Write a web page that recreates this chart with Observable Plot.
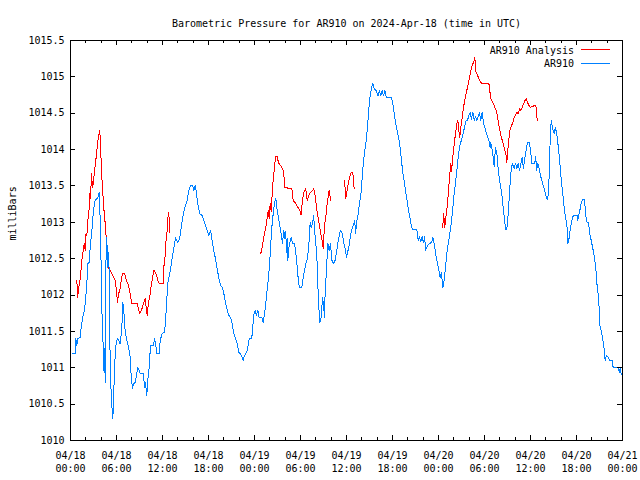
<!DOCTYPE html>
<html>
<head>
<meta charset="utf-8">
<script src="https://cdn.jsdelivr.net/npm/d3@7"></script>
<script src="https://cdn.jsdelivr.net/npm/@observablehq/plot@0.6"></script>
<style>
  body { margin: 0; background: #fff; }
  #wrap { position: relative; width: 640px; height: 480px; font-family: "DejaVu Sans Mono", monospace; font-size: 10px; color: #000; }
  .legtext { position: absolute; left: 400px; width: 174px; text-align: right; line-height: 12px; white-space: pre; }
  .legline { position: absolute; left: 581px; width: 29px; height: 1px; }
</style>
</head>
<body>
<div id="wrap"></div>
<script>
const title = "Barometric Pressure for AR910 on 2024-Apr-18 (time in UTC)";
const yLabel = "milliBars";
const seriesNames = ["AR910 Analysis", "AR910"];
const seriesColors = ["#ff0000", "#0080ff"];
const startUTC = Date.UTC(2024, 3, 18, 0, 0);

// AR910 (hours since 2024-04-18 00:00 UTC, mbar)
const blueHours = [0.26,0.61,0.69,0.82,0.95,1.27,1.40,1.57,1.83,2.00,2.13,2.26,2.44,2.61,2.78,2.87,3.04,3.22,3.56,3.74,3.82,3.95,4.08,4.27,4.34,4.43,4.53,4.60,4.73,4.87,4.96,5.05,5.13,5.22,5.39,5.52,5.61,5.74,5.91,6.09,6.26,6.48,6.69,6.82,6.95,7.13,7.34,7.57,7.79,7.92,8.09,8.22,8.44,8.65,8.78,8.96,9.09,9.52,9.65,9.78,9.95,10.08,10.26,10.43,10.83,10.96,11.13,11.26,11.57,11.70,11.96,12.26,12.39,12.52,12.69,12.95,13.13,13.30,13.47,13.70,14.00,14.26,14.44,14.61,14.78,15.00,15.22,15.43,15.65,15.91,16.08,16.30,16.60,16.86,17.18,17.39,17.61,17.83,18.04,18.26,18.39,18.52,18.69,18.91,19.13,19.34,19.57,19.83,20.00,20.22,20.44,20.65,20.87,21.09,21.30,21.52,21.74,21.95,22.17,22.39,22.53,22.70,22.96,23.13,23.31,23.57,23.74,23.87,24.09,24.26,24.43,24.61,24.95,25.13,25.30,25.47,25.66,25.83,26.00,26.13,26.26,26.44,26.61,26.78,26.91,27.04,27.22,27.39,27.56,27.65,27.82,27.95,28.08,28.17,28.26,28.34,28.52,28.78,28.96,29.22,29.39,29.61,29.74,29.91,30.17,30.35,30.52,30.69,30.91,31.13,31.26,31.39,31.56,31.73,31.83,32.00,32.18,32.26,32.35,32.52,32.70,32.87,33.00,33.13,33.22,33.39,33.56,33.74,33.91,34.08,34.34,34.52,34.69,34.87,35.05,35.22,35.48,35.65,35.83,36.00,36.30,36.48,36.65,36.91,37.08,37.17,37.35,37.53,37.70,37.87,38.05,38.22,38.39,38.57,38.74,38.91,39.09,39.26,39.43,39.61,39.87,40.13,40.30,40.47,40.65,40.82,41.00,41.18,41.87,42.04,42.22,42.39,42.56,42.74,42.91,43.08,43.26,43.43,43.61,43.79,43.96,44.13,44.31,44.48,44.65,45.17,45.35,45.52,45.69,45.87,46.04,46.21,46.30,46.56,46.82,47.08,47.26,47.44,47.61,47.83,48.04,48.22,48.39,48.56,48.74,48.91,49.13,49.34,49.53,49.70,49.87,50.05,50.22,50.39,50.57,50.74,50.91,51.09,51.26,51.43,51.61,51.78,51.96,52.13,52.30,52.48,52.66,52.83,53.00,53.18,53.35,53.52,53.70,53.87,54.04,54.22,54.39,54.57,54.74,54.82,55.00,55.17,55.26,55.43,55.61,55.78,55.95,56.13,56.31,56.48,56.65,56.74,56.91,57.09,57.26,57.43,57.61,57.87,58.04,58.22,58.39,58.57,58.74,58.91,59.09,59.26,59.44,59.61,59.87,60.09,60.17,60.52,60.69,60.78,60.95,61.13,61.30,61.48,61.65,61.83,62.00,62.18,62.35,62.44,62.57,62.70,62.83,62.96,63.13,63.22,63.39,63.56,63.74,63.91,64.08,64.27,64.43,64.61,64.79,64.87,65.05,65.22,65.39,65.57,66.09,66.17,66.26,66.43,66.61,66.78,67.04,67.21,67.39,67.57,67.74,67.92,68.09,68.26,68.44,68.61,68.70,68.87,68.96,69.04,69.22,69.39,69.57,69.66,69.74,69.91,70.17,70.35,70.63,70.79,71.48,71.57,71.74,71.83];
const bluePressure = [1011.19,1011.19,1011.40,1011.30,1011.40,1011.42,1011.56,1011.68,1011.79,1011.99,1012.16,1012.43,1012.45,1012.72,1012.86,1013.02,1013.20,1013.30,1013.34,1013.41,1013.23,1012.68,1011.83,1011.26,1010.96,1011.26,1010.80,1012.38,1012.79,1012.38,1012.58,1012.30,1011.38,1010.85,1010.48,1010.30,1010.51,1011.00,1011.30,1011.40,1011.38,1011.33,1011.54,1011.90,1011.79,1011.51,1011.38,1011.28,1011.14,1010.87,1010.72,1010.78,1010.80,1010.92,1011.00,1010.96,1010.92,1010.92,1010.73,1010.80,1010.62,1010.83,1011.00,1011.30,1011.30,1011.40,1011.30,1011.19,1011.19,1011.38,1011.47,1011.49,1011.62,1011.88,1012.16,1012.30,1012.41,1012.54,1012.64,1012.79,1012.72,1012.79,1012.93,1013.05,1013.14,1013.23,1013.30,1013.44,1013.51,1013.51,1013.44,1013.51,1013.26,1013.12,1013.09,1013.02,1012.96,1012.89,1012.82,1012.89,1012.82,1012.71,1012.61,1012.50,1012.36,1012.24,1012.13,1012.10,1012.02,1011.90,1011.79,1011.72,1011.69,1011.61,1011.47,1011.40,1011.33,1011.21,1011.19,1011.14,1011.10,1011.17,1011.21,1011.28,1011.40,1011.40,1011.47,1011.72,1011.79,1011.72,1011.79,1011.69,1011.69,1011.62,1011.74,1011.88,1012.09,1012.24,1012.48,1012.71,1012.93,1013.12,1013.26,1013.33,1013.20,1013.12,1013.00,1012.89,1012.79,1012.71,1012.89,1012.78,1012.87,1012.58,1012.78,1012.48,1012.68,1012.79,1012.71,1012.71,1012.57,1012.34,1012.17,1012.10,1012.10,1012.24,1012.34,1012.43,1012.50,1012.75,1013.00,1012.92,1012.98,1013.09,1012.89,1012.71,1012.43,1012.16,1011.90,1011.62,1011.69,1011.97,1011.88,1011.69,1012.06,1012.34,1012.71,1012.61,1012.71,1012.48,1012.43,1012.48,1012.58,1012.71,1012.82,1012.89,1012.84,1012.71,1012.64,1012.52,1012.66,1012.78,1012.89,1012.96,1013.02,1012.84,1013.02,1013.12,1013.26,1013.37,1013.62,1013.85,1013.99,1014.13,1014.30,1014.56,1014.74,1014.85,1014.91,1014.84,1014.81,1014.74,1014.81,1014.74,1014.81,1014.74,1014.81,1014.72,1014.72,1014.63,1014.50,1014.37,1014.29,1014.19,1014.10,1013.95,1013.76,1013.62,1013.51,1013.37,1013.26,1013.14,1013.05,1012.93,1012.90,1012.90,1012.75,1012.80,1012.74,1012.80,1012.72,1012.80,1012.61,1012.68,1012.71,1012.72,1012.79,1012.71,1012.58,1012.45,1012.34,1012.24,1012.31,1012.10,1012.20,1012.38,1012.61,1012.75,1012.89,1013.02,1013.20,1013.40,1013.55,1013.71,1013.89,1014.03,1014.10,1014.17,1014.24,1014.33,1014.40,1014.40,1014.47,1014.51,1014.42,1014.51,1014.40,1014.45,1014.40,1014.45,1014.51,1014.40,1014.51,1014.37,1014.30,1014.24,1014.17,1014.13,1014.03,1014.10,1013.99,1013.88,1013.76,1014.03,1013.95,1013.74,1013.58,1013.48,1013.34,1013.16,1013.00,1012.90,1012.90,1013.12,1013.40,1013.67,1013.81,1013.74,1013.81,1013.74,1013.81,1013.71,1013.81,1013.89,1013.74,1013.89,1013.99,1014.10,1014.10,1013.90,1013.81,1013.81,1013.90,1013.71,1013.81,1013.74,1013.64,1013.58,1013.51,1013.44,1013.37,1013.31,1013.40,1013.67,1014.15,1014.40,1014.33,1014.26,1014.22,1014.30,1014.24,1014.10,1013.92,1013.71,1013.51,1013.33,1013.16,1013.05,1012.92,1012.71,1012.79,1012.93,1013.02,1013.09,1013.09,1013.02,1013.09,1013.16,1013.26,1013.31,1013.31,1013.09,1013.00,1013.00,1012.84,1012.75,1012.66,1012.57,1012.43,1012.27,1012.10,1011.99,1011.79,1011.58,1011.51,1011.42,1011.30,1011.19,1011.10,1011.17,1011.14,1011.10,1011.10,1011.00,1011.00,1010.94,1011.00,1010.90];

// AR910 Analysis (NaN = no data, the line breaks there)
const redHours = [0.82,0.95,1.04,1.17,1.30,1.47,1.66,1.79,1.92,2.00,2.13,2.26,2.44,2.52,2.61,2.74,2.87,3.00,3.13,3.30,3.48,3.65,3.82,3.91,4.04,4.17,4.34,4.53,4.66,4.79,4.92,5.13,5.39,5.65,5.83,6.00,6.13,6.26,6.43,6.61,6.78,6.95,7.13,7.30,7.57,7.83,8.00,8.70,8.87,9.04,9.22,9.39,9.56,9.74,9.85,10.00,10.17,10.34,10.53,10.70,10.87,11.05,11.22,11.39,11.57,12.09,12.17,12.35,12.43,12.61,12.69,12.82,12.95,
  18.00,
  24.82,25.04,25.26,25.47,25.66,25.79,25.92,26.05,26.18,26.35,26.52,26.70,26.78,26.96,27.13,27.39,27.65,27.82,27.91,28.87,29.05,29.39,29.74,29.91,30.07,30.17,30.35,30.52,30.69,30.87,31.04,31.21,31.56,31.73,31.91,32.09,32.26,32.44,32.61,32.78,32.96,33.04,33.13,33.30,33.48,33.65,33.74,33.82,33.91,
  34.80,
  35.74,35.91,36.09,36.22,36.39,36.56,36.65,36.82,36.91,37.00,
  42.00,
  48.56,48.65,48.78,48.82,48.91,49.04,49.17,49.34,49.44,49.61,49.70,49.79,49.92,50.05,50.22,50.39,50.52,50.65,50.78,50.91,51.09,51.26,51.43,51.61,51.78,51.96,52.13,52.30,52.48,52.66,52.74,52.83,53.00,53.18,53.35,53.52,53.70,54.57,54.82,55.00,55.26,55.43,55.61,55.78,55.95,56.13,56.31,56.48,56.65,56.83,56.91,57.00,57.17,57.35,57.52,57.70,57.87,58.04,58.22,58.39,58.57,58.74,58.91,59.09,59.26,59.44,59.61,59.78,59.95,60.17,60.65,60.76,60.87];
const redPressure = [1012.20,1011.97,1012.09,1012.16,1012.24,1012.48,1012.61,1012.71,1012.61,1012.84,1012.82,1013.02,1013.20,1013.40,1013.33,1013.67,1013.48,1013.55,1013.71,1013.85,1014.03,1014.19,1014.26,1014.08,1013.71,1013.48,1013.20,1012.98,1012.79,1012.61,1012.38,1012.34,1012.30,1012.24,1012.20,1012.06,1011.90,1012.02,1012.06,1012.20,1012.30,1012.30,1012.27,1012.20,1012.13,1011.99,1011.88,1011.88,1011.81,1011.74,1011.79,1011.83,1011.90,1011.95,1011.85,1011.72,1011.90,1011.97,1012.13,1012.24,1012.34,1012.31,1012.27,1012.20,1012.16,1012.16,1012.38,1012.54,1012.72,1012.89,1013.05,1013.14,1012.86,
  NaN,
  1012.57,1012.68,1012.82,1012.93,1013.07,1013.16,1013.05,1013.26,1013.15,1013.48,1013.67,1013.85,1013.91,1013.90,1013.82,1013.78,1013.74,1013.70,1013.48,1013.46,1013.30,1013.26,1013.19,1013.16,1013.10,1013.22,1013.37,1013.44,1013.46,1013.30,1013.35,1013.40,1013.44,1013.46,1013.37,1013.20,1013.09,1012.98,1012.86,1012.78,1012.64,1012.78,1012.96,1013.07,1013.26,1013.37,1013.44,1013.40,1013.30,
  NaN,
  1013.58,1013.33,1013.44,1013.53,1013.62,1013.67,1013.69,1013.69,1013.58,1013.46,
  NaN,
  1012.93,1013.12,1013.00,1012.93,1013.05,1013.12,1013.26,1013.48,1013.62,1013.81,1013.70,1013.81,1013.95,1014.08,1014.22,1014.36,1014.40,1014.26,1014.17,1014.31,1014.44,1014.58,1014.68,1014.78,1014.85,1014.95,1015.04,1015.12,1015.18,1015.22,1015.27,1015.09,1015.04,1015.00,1014.95,1014.92,1014.91,1014.91,1014.70,1014.66,1014.61,1014.56,1014.51,1014.40,1014.29,1014.19,1014.13,1014.06,1013.99,1013.92,1013.82,1013.95,1014.13,1014.29,1014.33,1014.37,1014.44,1014.47,1014.51,1014.49,1014.56,1014.54,1014.58,1014.63,1014.67,1014.70,1014.65,1014.61,1014.58,1014.59,1014.61,1014.58,1014.40];

const yTicks = [1010, 1010.5, 1011, 1011.5, 1012, 1012.5, 1013, 1013.5, 1014, 1014.5, 1015, 1015.5];
const xMajorHours = [0, 6, 12, 18, 24, 30, 36, 42, 48, 54, 60, 66, 72];
const xTickLabels = ["04/18\n00:00","04/18\n06:00","04/18\n12:00","04/18\n18:00","04/19\n00:00","04/19\n06:00","04/19\n12:00","04/19\n18:00","04/20\n00:00","04/20\n06:00","04/20\n12:00","04/20\n18:00","04/21\n00:00"];
const xMinorHours = [2,4,8,10,14,16,20,22,26,28,32,34,38,40,44,46,50,52,56,58,62,64,68,70];

const toDate = h => new Date(startUTC + h * 3600000);
const blue = blueHours.map((h, i) => ({time: toDate(h), value: bluePressure[i]}));
const red = redHours.map((h, i) => ({time: toDate(h), value: redPressure[i]}));
const majorDates = xMajorHours.map(toDate);
const minorDates = xMinorHours.map(toDate);
const labelOf = new Map(majorDates.map((d, i) => [+d, xTickLabels[i]]));

const W = 640, H = 480, mL = 70, mR = 18, mT = 40, mB = 40;
const frameW = W - mL - mR, frameH = H - mT - mB;
const major = 5, minor = 3;
const tickStyle = {stroke: "#000", strokeWidth: 1, shapeRendering: "crispEdges"};

const chart = Plot.plot({
  width: W,
  height: H,
  marginLeft: mL,
  marginRight: mR,
  marginTop: mT,
  marginBottom: mB,
  style: {fontFamily: "DejaVu Sans Mono, monospace", fontSize: "10px", background: "#fff", color: "#000", overflow: "visible"},
  x: {type: "utc", domain: [toDate(0), toDate(72)]},
  y: {domain: [1010, 1015.5]},
  marks: [
    Plot.line(red, {x: "time", y: "value", stroke: seriesColors[0], strokeWidth: 1, shapeRendering: "crispEdges"}),
    Plot.line(blue, {x: "time", y: "value", stroke: seriesColors[1], strokeWidth: 1, shapeRendering: "crispEdges"}),
    // inward tick marks, mirrored on all four sides
    Plot.ruleX(majorDates, {x: d => d, insetTop: frameH - major, ...tickStyle}),
    Plot.ruleX(majorDates, {x: d => d, insetBottom: frameH - major, ...tickStyle}),
    Plot.ruleX(minorDates, {x: d => d, insetTop: frameH - minor, ...tickStyle}),
    Plot.ruleX(minorDates, {x: d => d, insetBottom: frameH - minor, ...tickStyle}),
    Plot.ruleY(yTicks, {y: d => d, insetRight: frameW - major, ...tickStyle}),
    Plot.ruleY(yTicks, {y: d => d, insetLeft: frameW - major, ...tickStyle}),
    Plot.frame({stroke: "#000", strokeWidth: 1, shapeRendering: "crispEdges"}),
    // tick labels
    Plot.axisY(yTicks, {anchor: "left", tickSize: 0, tickPadding: 6, tickFormat: d => String(d), label: null}),
    Plot.axisX(majorDates, {anchor: "bottom", tickSize: 0, tickPadding: 9, tickFormat: d => labelOf.get(+d), lineHeight: 1.3, label: null}),
    Plot.text([title], {frameAnchor: "top", dy: -21, fontSize: 10}),
    Plot.text([yLabel], {frameAnchor: "left", rotate: -90, dx: -58, fontSize: 10})
  ]
});

const wrap = document.getElementById("wrap");
wrap.appendChild(chart);
seriesNames.forEach((name, i) => {
  const t = document.createElement("div");
  t.className = "legtext";
  t.style.top = (44.5 + i * 13.5) + "px";
  t.textContent = name;
  wrap.appendChild(t);
  const l = document.createElement("div");
  l.className = "legline";
  l.style.top = (49 + i * 13.5) + "px";
  l.style.background = seriesColors[i];
  wrap.appendChild(l);
});
</script>
</body>
</html>
